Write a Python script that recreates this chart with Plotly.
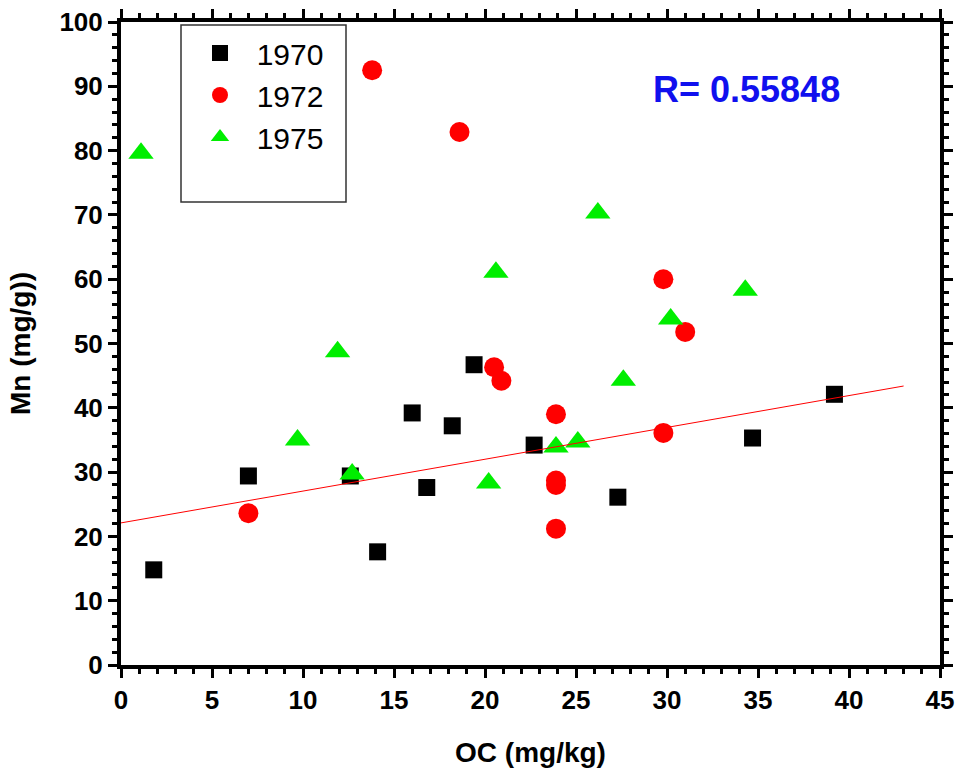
import plotly.graph_objects as go

# ---- data ----
oc_1970 = [1.8, 7.0, 12.6, 14.1, 16.0, 16.8, 18.2, 19.4, 22.7, 27.3, 34.7, 39.2]
mn_1970 = [14.8, 29.4, 29.4, 17.6, 39.2, 27.6, 37.2, 46.7, 34.2, 26.1, 35.3, 42.1]

oc_1972 = [13.8, 18.6, 7.0, 20.5, 20.9, 23.9, 23.9, 23.9, 23.9, 29.8, 29.8, 31.0]
mn_1972 = [92.5, 82.9, 23.6, 46.3, 44.2, 39.0, 28.7, 28.0, 21.2, 60.0, 36.1, 51.8]

oc_1975 = [1.1, 9.7, 11.9, 12.7, 20.2, 20.6, 23.9, 25.1, 26.2, 27.6, 30.2, 34.3]
mn_1975 = [79.6, 35.0, 48.7, 29.7, 28.3, 61.1, 33.9, 34.7, 70.3, 44.3, 53.8, 58.3]

fit_intercept = 22.1
fit_slope = 0.495
fit_x = [0, 43]
r_text = "R= 0.55848"

x_ticks = [0, 5, 10, 15, 20, 25, 30, 35, 40, 45]
y_ticks = [0, 10, 20, 30, 40, 50, 60, 70, 80, 90, 100]

fit_y = [fit_intercept + fit_slope * x for x in fit_x]

FONT = "Liberation Sans, Arial, sans-serif"
PAD = "\u00a0\u00a0"

fig = go.Figure()
fig.add_trace(go.Scatter(x=oc_1970, y=mn_1970, mode="markers", name=PAD + "1970",
                         marker=dict(symbol="square", size=17, color="black")))
fig.add_trace(go.Scatter(x=oc_1972, y=mn_1972, mode="markers", name=PAD + "1972",
                         marker=dict(symbol="circle", size=20, color="#ff0000")))
fig.add_trace(go.Scatter(x=oc_1975, y=mn_1975, mode="markers", name=PAD + "1975",
                         marker=dict(symbol="triangle-up", size=22, color="#00ee00")))
fig.add_trace(go.Scatter(x=fit_x, y=fit_y, mode="lines", showlegend=False,
                         line=dict(color="#ff0000", width=1)))

axis_common = dict(
    showgrid=False, zeroline=False, showline=True, linecolor="black", linewidth=4,
    mirror="allticks", ticks="outside", ticklen=9, tickwidth=3, tickcolor="black",
    automargin=False, ticklabeloverflow="allow",
    tickfont=dict(family=FONT, size=26, color="black", weight="bold"),
)

fig.update_xaxes(range=[0, 45], tickvals=x_ticks, ticktext=[str(v) for v in x_ticks],
                 minor=dict(dtick=1, ticklen=5, tickwidth=3, tickcolor="black", ticks="outside"),
                 title=dict(text="<b>OC (mg/kg)</b>", font=dict(family=FONT, size=28, color="black"),
                            standoff=29),
                 **axis_common)
fig.update_yaxes(range=[0, 100], tickvals=y_ticks, ticktext=[str(v) for v in y_ticks],
                 minor=dict(dtick=2, ticklen=5, tickwidth=3, tickcolor="black", ticks="outside"),
                 title=dict(text="<b>Mn (mg/g))</b>", font=dict(family=FONT, size=28, color="black"),
                            standoff=22),
                 **axis_common)

# legend frame
fig.add_shape(type="rect", xref="paper", yref="paper",
              x0=(181 - 121) / 819, x1=(346 - 121) / 819,
              y0=1 - (202 - 22) / 643, y1=1 - (25 - 22) / 643,
              line=dict(color="#333333", width=1.5), fillcolor="rgba(0,0,0,0)")

fig.add_annotation(text="<b>" + r_text + "</b>", xref="paper", yref="paper",
                   x=(746 - 121) / 819, y=1 - (89 - 22) / 643, showarrow=False,
                   xanchor="center", yanchor="middle",
                   font=dict(family=FONT, size=36, color="#1010ee"))

fig.update_layout(
    width=961, height=772,
    margin=dict(l=121, r=21, t=22, b=107),
    paper_bgcolor="white", plot_bgcolor="white",
    showlegend=True,
    legend=dict(x=(200 - 121) / 819, y=1 - (27 - 22) / 643, xanchor="left", yanchor="top",
                bgcolor="rgba(0,0,0,0)", borderwidth=0,
                font=dict(family=FONT, size=30, color="black")),
)

# remove the default 8px page margin so the figure sits at the window's corner
fig.write_html("out.html", config={"displayModeBar": False},
               post_script="document.body.style.margin='0';document.body.style.overflow='hidden';")
